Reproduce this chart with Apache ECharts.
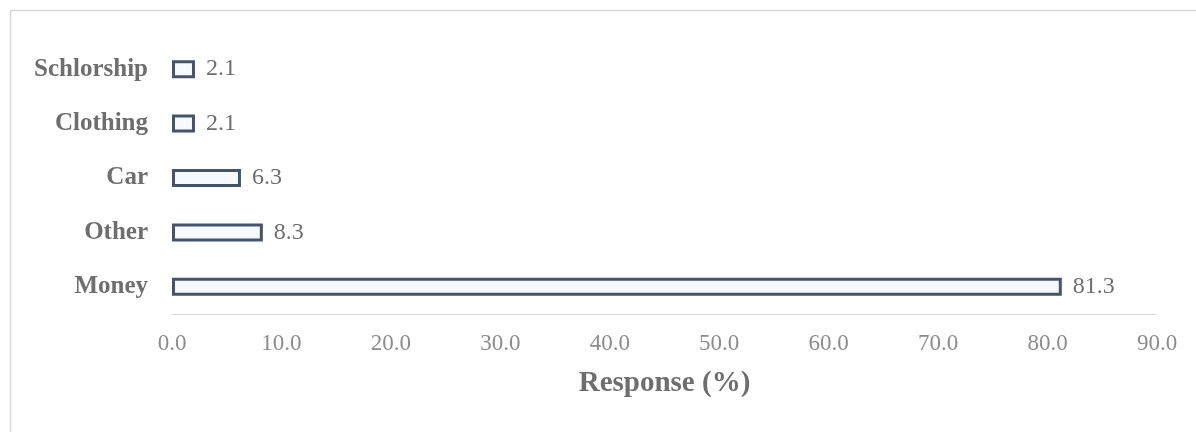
<!DOCTYPE html>
<html>
<head>
<meta charset="utf-8">
<script src="https://cdn.jsdelivr.net/npm/echarts@6/dist/echarts.min.js"></script>
<style>
html,body{margin:0;padding:0;background:#fff;}
#chart{width:1196px;height:432px;}
</style>
</head>
<body>
<div id="chart"></div>
<script>
const categories = ['Money', 'Other', 'Car', 'Clothing', 'Schlorship'];
const responses = [81.3, 8.3, 6.3, 2.1, 2.1];
const xTicks = {min: 0, max: 90, interval: 10};
const axisTitle = 'Response (%)';

const chart = echarts.init(document.getElementById('chart'));
const serif = '"Liberation Serif", "Times New Roman", serif';
chart.setOption({
  animation: false,
  backgroundColor: '#ffffff',
  grid: {left: 172, right: 39, top: 42, height: 272, containLabel: false},
  graphic: [
    {type: 'line', shape: {x1: 10, y1: 10.5, x2: 1196, y2: 10.5}, style: {stroke: '#d9d9d9', lineWidth: 1.5}},
    {type: 'line', shape: {x1: 10.5, y1: 10, x2: 10.5, y2: 432}, style: {stroke: '#d9d9d9', lineWidth: 1.5}}
  ],
  xAxis: {
    type: 'value',
    min: xTicks.min, max: xTicks.max, interval: xTicks.interval,
    axisLine: {show: true, lineStyle: {color: '#d9d9d9', width: 1}},
    axisTick: {show: false},
    splitLine: {show: false},
    axisLabel: {
      color: '#8c8c8c', fontFamily: serif, fontSize: 23, margin: 18,
      formatter: v => v.toFixed(1)
    },
    name: axisTitle,
    nameLocation: 'middle',
    nameGap: 55,
    nameTextStyle: {color: '#6e6e6e', fontFamily: serif, fontSize: 29, fontWeight: 'bold'}
  },
  yAxis: {
    type: 'category',
    data: categories,
    axisLine: {show: false},
    axisTick: {show: false},
    axisLabel: {color: '#6e6e6e', fontFamily: serif, fontSize: 25, fontWeight: 'bold', margin: 24}
  },
  series: [{
    type: 'bar',
    data: responses,
    barWidth: 18,
    itemStyle: {color: '#f7fafd', borderColor: '#44546a', borderWidth: 3},
    label: {
      show: true, position: 'right', distance: 11,
      color: '#6e6e6e', fontFamily: serif, fontSize: 24,
      formatter: p => p.value.toFixed(1)
    }
  }]
});
</script>
</body>
</html>
